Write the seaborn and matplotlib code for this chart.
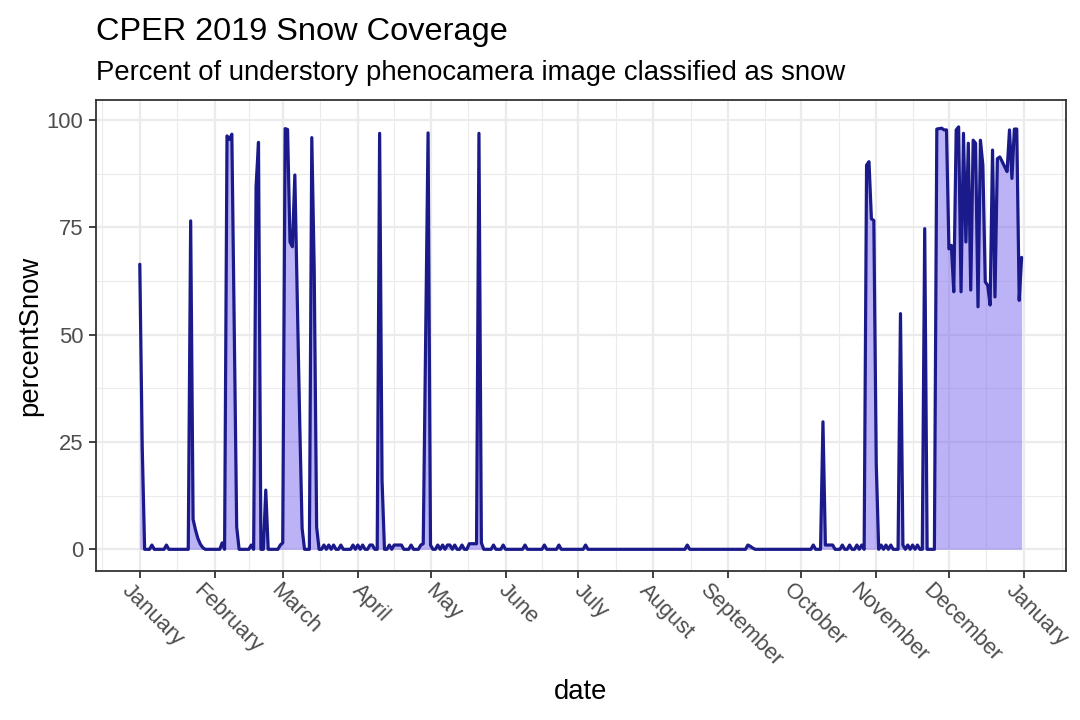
import numpy as np
import pandas as pd
import matplotlib
matplotlib.use("Agg")
import matplotlib.pyplot as plt
from matplotlib.ticker import FixedLocator, FixedFormatter
from matplotlib.transforms import ScaledTranslation
import matplotlib.dates as mdates
import seaborn as sns

title = "CPER 2019 Snow Coverage"
subtitle = "Percent of understory phenocamera image classified as snow"
x_label = "date"
y_label = "percentSnow"

start_date = "2019-01-01"
end_date = "2019-12-31"

# day offsets from Jan 1 2019 that show snow, and their percent; every other day reads 0
snow_days = [0, 1, 5, 11, 21, 22, 23, 24, 25, 26, 34, 36, 37, 38, 39, 40,
             46, 48, 49, 52, 58, 59, 60, 61, 62, 63, 64, 65, 66, 67, 71, 72, 73,
             76, 78, 80, 83, 88, 90, 92, 95, 96, 99, 100, 103, 105, 106, 107, 108,
             112, 116, 117, 118, 119, 120, 123, 125, 127, 128, 130, 133, 136, 137,
             138, 139, 140, 141, 146, 150, 159, 167, 173, 184, 226, 251, 252, 253,
             278, 282, 283, 284, 285, 286, 290, 293, 296, 298, 300, 301, 302, 303,
             304, 306, 308, 310, 314, 315, 317, 319, 321, 324,
             329, 330, 331, 332, 333, 334, 335, 336, 337, 338, 339, 340, 341, 342,
             343, 344, 345, 346, 347, 348, 349, 350, 351, 352, 353, 354, 355, 356,
             357, 358, 359, 360, 361, 362, 363, 364]
snow_pct = [66.4, 24, 1, 1, 76.5, 7, 4.5, 2.5, 1.2, 0.4, 1.5, 96.3, 95.5, 96.7, 50, 5.2,
            1, 84.5, 94.8, 13.8, 1, 1.5, 98, 97.8, 71.6, 70.5, 87.2, 58, 30, 4.9, 95.9, 65, 5.2,
            1, 1, 1, 1, 1, 1, 1, 1, 1, 96.9, 16, 1, 1, 1, 1, 1,
            1, 1, 1.3, 49, 97, 1, 1, 1, 1, 1, 1, 1, 1.3, 1.3,
            1.3, 1.3, 96.9, 1.5, 1, 1, 1, 1, 1, 1, 1, 1, 0.7, 0.3,
            1, 29.7, 1, 1, 1, 1, 1, 1, 1, 1, 89.5, 90.3, 77, 76.6,
            20, 1, 1, 1, 54.9, 1, 1, 1, 1, 74.7,
            97.9, 98.0, 98.1, 97.7, 97.7, 70, 70.8, 60, 97.7, 98.4, 60, 96.9, 71.6, 94.6,
            60.4, 95.3, 94.6, 56.5, 95.3, 89.5, 62.3, 61.5, 56.9, 93, 58.8, 91, 91.4, 90.3,
            89.1, 88, 97.7, 86.4, 97.9, 97.9, 58, 68]

dates = pd.date_range(start_date, end_date, freq="D")
pct = np.zeros(len(dates))
pct[snow_days] = snow_pct
df = pd.DataFrame({"date": dates, "percentSnow": pct})

month_ticks = pd.date_range("2019-01-01", "2020-01-01", freq="MS")
month_labels = [d.strftime("%B") for d in month_ticks]
y_ticks = [0, 25, 50, 75, 100]

sns.set_theme(style="white")
plt.rcParams["font.family"] = ["Liberation Sans", "DejaVu Sans"]

W, H = 1080, 720
fig = plt.figure(figsize=(W / 100, H / 100), dpi=100)
pl, pr, pt_, pb = 95.7, 1065.7, 100.3, 570.7
ax = fig.add_axes([pl / W, 1 - pb / H, (pr - pl) / W, (pb - pt_) / H])
ax.set_facecolor("white")

ax.fill_between(df["date"], 0, df["percentSnow"], color="#7B68EE", alpha=0.5,
                lw=0, zorder=2)
sns.lineplot(data=df, x="date", y="percentSnow", ax=ax, color="#1a1a8a",
             lw=2.3, zorder=3)

pad_days = pd.Timedelta(days=0.05 * (len(dates) - 1))
ax.set_xlim(dates[0] - pad_days, dates[-1] + pad_days)
ax.set_ylim(-4.98, 104.6)

# major / minor ticks
ax.xaxis.set_major_locator(FixedLocator(mdates.date2num(month_ticks)))
ax.xaxis.set_major_formatter(FixedFormatter(month_labels))
ext = pd.date_range("2018-12-01", "2020-02-01", freq="MS")
mids = [a + (b - a) / 2 for a, b in zip(ext[:-1], ext[1:])]
ax.xaxis.set_minor_locator(FixedLocator(mdates.date2num(mids)))
ax.yaxis.set_major_locator(FixedLocator(y_ticks))
ax.yaxis.set_minor_locator(FixedLocator([12.5, 37.5, 62.5, 87.5]))

ax.grid(which="major", color="#EBEBEB", lw=1.6)
ax.grid(which="minor", color="#EBEBEB", lw=0.8)
ax.set_axisbelow(True)

for s in ax.spines.values():
    s.set_color("#333333")
    s.set_linewidth(1.3)
    s.set_visible(True)

ax.tick_params(which="major", length=4.97, width=1.3, color="#333333",
               labelcolor="#4D4D4D", labelsize=15.84, bottom=True, left=True)
ax.tick_params(axis="y", pad=4)
ax.tick_params(axis="x", pad=1.5)
ax.tick_params(which="minor", length=0)

offset = ScaledTranslation(9.4 / 72, 0, fig.dpi_scale_trans)
for lab in ax.get_xticklabels():
    lab.set_rotation(-45)
    lab.set_rotation_mode("default")
    lab.set_ha("center")
    lab.set_va("top")
    lab.set_transform(lab.get_transform() + offset)

ax.set_xlabel("")
ax.set_ylabel("")
fig.text(pl / W, 1 - 40 / H, title, fontsize=23.4, ha="left", va="baseline",
         color="black")
fig.text(pl / W, 1 - 80 / H, subtitle, fontsize=19.8, ha="left", va="baseline",
         color="black")
fig.text((pl + pr) / 2 / W, 1 - 699 / H, x_label, fontsize=19.8, ha="center",
         va="baseline", color="black")
fig.text(30 / W, 1 - (pt_ + pb) / 2 / H, y_label, fontsize=19.8, ha="center",
         va="center", rotation=90, color="black")

fig.savefig("out.png", dpi=100, facecolor="white")
